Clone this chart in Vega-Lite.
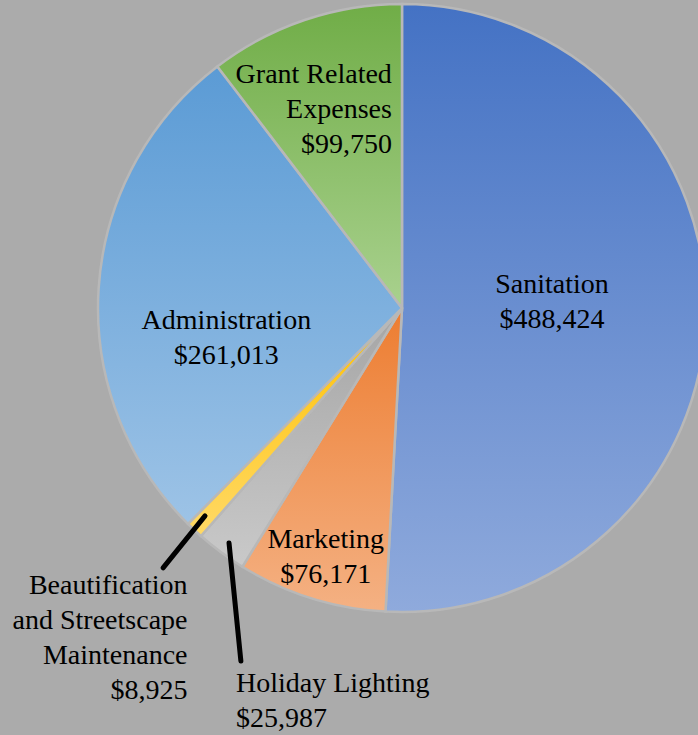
{
  "$schema": "https://vega.github.io/schema/vega-lite/v6.json",
  "width": 698,
  "height": 735,
  "autosize": "none",
  "padding": 0,
  "background": "#ababab",
  "config": {"view": {"stroke": null}},
  "data": {
    "values": [
      {"cat": "Sanitation", "value": 488424, "idx": 1, "label": "Sanitation\n$488,424"},
      {"cat": "Marketing", "value": 76171, "idx": 2, "label": "Marketing\n$76,171"},
      {"cat": "Holiday Lighting", "value": 25987, "idx": 3, "label": "Holiday Lighting\n$25,987"},
      {"cat": "Beautification and Streetscape Maintenance", "value": 8925, "idx": 4, "label": "Beautification\nand Streetscape\nMaintenance\n$8,925"},
      {"cat": "Administration", "value": 261013, "idx": 5, "label": "Administration\n$261,013"},
      {"cat": "Grant Related Expenses", "value": 99750, "idx": 6, "label": "Grant Related\nExpenses\n$99,750"}
    ]
  },
  "layer": [
    {
      "mark": {"type": "arc", "outerRadius": 304, "stroke": "#b8b8b8", "strokeWidth": 2.5},
      "encoding": {
        "x": {"datum": 0, "type": "quantitative", "scale": {"domain": [-1.3224, 0.9737], "nice": false, "zero": false}, "axis": null},
        "y": {"datum": 0, "type": "quantitative", "scale": {"domain": [-1.4046, 1.0132], "nice": false, "zero": false}, "axis": null},
        "theta": {"field": "value", "type": "quantitative", "stack": true},
        "order": {"field": "idx", "type": "quantitative"},
        "detail": {"field": "cat", "type": "nominal"},
        "fill": {
          "condition": [
            {"test": "datum.cat === 'Sanitation'", "value": {"gradient": "linear", "x1": 0, "y1": 0, "x2": 0, "y2": 1, "stops": [{"offset": 0, "color": "#4472c4"}, {"offset": 1, "color": "#8faadc"}]}},
            {"test": "datum.cat === 'Marketing'", "value": {"gradient": "linear", "x1": 0, "y1": 0, "x2": 0, "y2": 1, "stops": [{"offset": 0, "color": "#ed7d31"}, {"offset": 1, "color": "#f4b183"}]}},
            {"test": "datum.cat === 'Holiday Lighting'", "value": {"gradient": "linear", "x1": 0, "y1": 0, "x2": 0, "y2": 1, "stops": [{"offset": 0, "color": "#a5a5a5"}, {"offset": 1, "color": "#c9c9c9"}]}},
            {"test": "datum.cat === 'Beautification and Streetscape Maintenance'", "value": {"gradient": "linear", "x1": 0, "y1": 0, "x2": 0, "y2": 1, "stops": [{"offset": 0, "color": "#ffc000"}, {"offset": 1, "color": "#ffd966"}]}},
            {"test": "datum.cat === 'Administration'", "value": {"gradient": "linear", "x1": 0, "y1": 0, "x2": 0, "y2": 1, "stops": [{"offset": 0, "color": "#5b9bd5"}, {"offset": 1, "color": "#9dc3e6"}]}}
          ],
          "value": {"gradient": "linear", "x1": 0, "y1": 0, "x2": 0, "y2": 1, "stops": [{"offset": 0, "color": "#70ad47"}, {"offset": 1, "color": "#a9d18e"}]}
        }
      }
    },
    {
      "data": {
        "values": [
          {"leader": "Beautification and Streetscape Maintenance", "xa": -0.648, "ya": -0.684, "xb": -0.786, "yb": -0.855},
          {"leader": "Holiday Lighting", "xa": -0.569, "ya": -0.773, "xb": -0.530, "yb": -1.161}
        ]
      },
      "mark": {"type": "rule", "strokeWidth": 5, "strokeCap": "round", "color": "#000000"},
      "encoding": {
        "x": {"field": "xa", "type": "quantitative", "scale": {"domain": [-1.3224, 0.9737], "nice": false, "zero": false}, "axis": null},
        "y": {"field": "ya", "type": "quantitative", "scale": {"domain": [-1.4046, 1.0132], "nice": false, "zero": false}, "axis": null},
        "x2": {"field": "xb"},
        "y2": {"field": "yb"}
      }
    },
    {
      "mark": {"type": "text", "font": "Liberation Serif", "fontSize": 28, "lineHeight": 35, "lineBreak": "\n", "baseline": "alphabetic", "align": "center", "radius": 150, "dx": 0, "dy": -19, "color": "#000000"},
      "encoding": {
        "x": {"datum": 0, "type": "quantitative", "scale": {"domain": [-1.3224, 0.9737], "nice": false, "zero": false}, "axis": null},
        "y": {"datum": 0, "type": "quantitative", "scale": {"domain": [-1.4046, 1.0132], "nice": false, "zero": false}, "axis": null},
        "theta": {"field": "value", "type": "quantitative", "stack": true},
        "order": {"field": "idx", "type": "quantitative"},
        "detail": {"field": "cat", "type": "nominal"},
        "text": {"condition": {"test": "datum.cat === 'Sanitation'", "field": "label", "type": "nominal"}, "value": ""}
      }
    },
    {
      "mark": {"type": "text", "font": "Liberation Serif", "fontSize": 28, "lineHeight": 35, "lineBreak": "\n", "baseline": "alphabetic", "align": "center", "radius": 252, "dx": -1, "dy": 0, "color": "#000000"},
      "encoding": {
        "x": {"datum": 0, "type": "quantitative", "scale": {"domain": [-1.3224, 0.9737], "nice": false, "zero": false}, "axis": null},
        "y": {"datum": 0, "type": "quantitative", "scale": {"domain": [-1.4046, 1.0132], "nice": false, "zero": false}, "axis": null},
        "theta": {"field": "value", "type": "quantitative", "stack": true},
        "order": {"field": "idx", "type": "quantitative"},
        "detail": {"field": "cat", "type": "nominal"},
        "text": {"condition": {"test": "datum.cat === 'Marketing'", "field": "label", "type": "nominal"}, "value": ""}
      }
    },
    {
      "mark": {"type": "text", "font": "Liberation Serif", "fontSize": 28, "lineHeight": 35, "lineBreak": "\n", "baseline": "alphabetic", "align": "left", "radius": 420, "dx": 84, "dy": 47, "color": "#000000"},
      "encoding": {
        "x": {"datum": 0, "type": "quantitative", "scale": {"domain": [-1.3224, 0.9737], "nice": false, "zero": false}, "axis": null},
        "y": {"datum": 0, "type": "quantitative", "scale": {"domain": [-1.4046, 1.0132], "nice": false, "zero": false}, "axis": null},
        "theta": {"field": "value", "type": "quantitative", "stack": true},
        "order": {"field": "idx", "type": "quantitative"},
        "detail": {"field": "cat", "type": "nominal"},
        "text": {"condition": {"test": "datum.cat === 'Holiday Lighting'", "field": "label", "type": "nominal"}, "value": ""}
      }
    },
    {
      "mark": {"type": "text", "font": "Liberation Serif", "fontSize": 28, "lineHeight": 35, "lineBreak": "\n", "baseline": "alphabetic", "align": "right", "radius": 358, "dx": 30, "dy": 25, "color": "#000000"},
      "encoding": {
        "x": {"datum": 0, "type": "quantitative", "scale": {"domain": [-1.3224, 0.9737], "nice": false, "zero": false}, "axis": null},
        "y": {"datum": 0, "type": "quantitative", "scale": {"domain": [-1.4046, 1.0132], "nice": false, "zero": false}, "axis": null},
        "theta": {"field": "value", "type": "quantitative", "stack": true},
        "order": {"field": "idx", "type": "quantitative"},
        "detail": {"field": "cat", "type": "nominal"},
        "text": {"condition": {"test": "datum.cat === 'Beautification and Streetscape Maintenance'", "field": "label", "type": "nominal"}, "value": ""}
      }
    },
    {
      "mark": {"type": "text", "font": "Liberation Serif", "fontSize": 28, "lineHeight": 35, "lineBreak": "\n", "baseline": "alphabetic", "align": "center", "radius": 176, "dx": 0, "dy": 32, "color": "#000000"},
      "encoding": {
        "x": {"datum": 0, "type": "quantitative", "scale": {"domain": [-1.3224, 0.9737], "nice": false, "zero": false}, "axis": null},
        "y": {"datum": 0, "type": "quantitative", "scale": {"domain": [-1.4046, 1.0132], "nice": false, "zero": false}, "axis": null},
        "theta": {"field": "value", "type": "quantitative", "stack": true},
        "order": {"field": "idx", "type": "quantitative"},
        "detail": {"field": "cat", "type": "nominal"},
        "text": {"condition": {"test": "datum.cat === 'Administration'", "field": "label", "type": "nominal"}, "value": ""}
      }
    },
    {
      "mark": {"type": "text", "font": "Liberation Serif", "fontSize": 28, "lineHeight": 35, "lineBreak": "\n", "baseline": "alphabetic", "align": "right", "radius": 200, "dx": 54, "dy": -36, "color": "#000000"},
      "encoding": {
        "x": {"datum": 0, "type": "quantitative", "scale": {"domain": [-1.3224, 0.9737], "nice": false, "zero": false}, "axis": null},
        "y": {"datum": 0, "type": "quantitative", "scale": {"domain": [-1.4046, 1.0132], "nice": false, "zero": false}, "axis": null},
        "theta": {"field": "value", "type": "quantitative", "stack": true},
        "order": {"field": "idx", "type": "quantitative"},
        "detail": {"field": "cat", "type": "nominal"},
        "text": {"condition": {"test": "datum.cat === 'Grant Related Expenses'", "field": "label", "type": "nominal"}, "value": ""}
      }
    }
  ]
}
